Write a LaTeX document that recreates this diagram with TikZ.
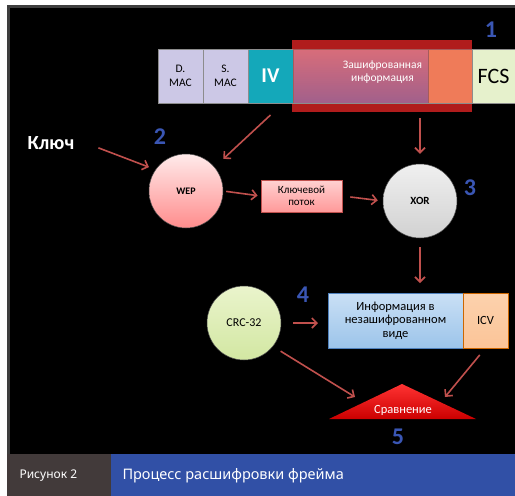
\documentclass[tikz,border=0pt]{standalone}
\usepackage{fontspec}
\setmainfont{Carlito}
\newfontfamily\capfont{Noto Sans}
\usetikzlibrary{arrows.meta,positioning,fit}
\definecolor{arrred}{HTML}{C0504D}
\definecolor{numblue}{HTML}{3A56B4}
\definecolor{framegrey}{HTML}{3E3E3E}
\definecolor{bargrey}{HTML}{423A3A}
\definecolor{barblue}{HTML}{3150A6}
\definecolor{macfill}{HTML}{CCC8E6}
\definecolor{ivteal}{HTML}{14A8BA}
\definecolor{encpink}{HTML}{D8A8BC}
\definecolor{encblue}{HTML}{8494D6}
\definecolor{icvorange}{HTML}{FBBE8A}
\definecolor{fcsgreen}{HTML}{E6F1CC}
\definecolor{ovldark}{HTML}{B01C1C}
\definecolor{crctop}{HTML}{EAF4CC}
\definecolor{crcbot}{HTML}{D2E7A2}
\definecolor{infotop}{HTML}{CAE0F5}
\definecolor{infobot}{HTML}{9CC4EA}
\definecolor{infoline}{HTML}{4F81BD}
\newcommand{\fsz}[1]{\fontsize{#1}{#1}\selectfont}

\begin{document}
\begin{tikzpicture}[x=1pt,y=-1pt,
	field/.style={draw=black!45,line width=.6pt,minimum height=54pt,inner sep=1pt,outer sep=0pt,align=center},
	arr/.style={draw=arrred,line width=1.6pt,-{Straight Barb[length=5pt,width=10pt]}},
	num/.style={text=numblue,font=\bfseries\fsz{24}},
	ball/.style={circle,minimum size=74pt,inner sep=0pt,draw=black!70,line width=.5pt}]
	\useasboundingbox (0,0) rectangle (515,496);
	\fill[white] (0,0) rectangle (515,496);
	\fill[framegrey] (7,5) rectangle (515,454);
	\fill[black] (10,8) rectangle (515,454);
	\fill[bargrey] (7,454) rectangle (111,496);
	\fill[barblue] (111,454) rectangle (515,496);
	\fill[ovldark] (292,40) rectangle (472,112);

	\node[field,fill=macfill,minimum width=45pt,font=\fsz{11.5}] (dmac) at (180.5,76) {D.\\[2pt]MAC};
	\node[field,fill=macfill,minimum width=45pt,font=\fsz{11.5},right=0pt of dmac] (smac) {S.\\[2pt]MAC};
	\node[field,fill=ivteal,text=white,minimum width=45pt,font=\bfseries\fsz{21},right=0pt of smac] (iv) {IV};
	\node[field,top color=encpink,bottom color=encblue,minimum width=135pt,right=0pt of iv] (enc) {};
	\node[field,fill=icvorange,minimum width=44pt,right=0pt of enc] (encx) {};
	\node[field,fill=fcsgreen,minimum width=43pt,font=\fsz{22},right=0pt of encx] (fcs) {FCS};
	\node[fit=(enc)(encx),inner sep=0pt,fill=red!85!black,fill opacity=.35,text opacity=1,
		text=white,align=center,font=\fsz{11.5}] (ovl) {Зашифрованная\\[2pt]информация};
	\node[num] (n1) at (491,30) {1};

	\node[text=white,font=\bfseries\fsz{20}] (key) at (51,143) {Ключ};
	\node[num] (n2) at (160,137) {2};
	\node[ball,top color=red!8,bottom color=red!45,font=\bfseries\fsz{10}] (wep) at (186,191) {WEP};
	\node[draw=arrred,line width=.8pt,top color=red!18,bottom color=red!40,minimum width=81pt,
		minimum height=32pt,inner sep=1pt,align=center,font=\fsz{11}] (ks) at (301.5,196) {Ключевой\\[1pt]поток};
	\node[ball,top color=black!6,bottom color=black!18,font=\bfseries\fsz{11}] (xor) at (420,201) {XOR};
	\node[num] (n3) at (470,188) {3};

	\node[ball,top color=crctop,bottom color=crcbot,font=\fsz{12}] (crc) at (244,323) {CRC-32};
	\node[num] (n4) at (303,295) {4};
	\node[draw=infoline,line width=.8pt,top color=infotop,bottom color=infobot,
		minimum width=135pt,minimum height=55pt,inner sep=1pt,outer sep=0pt,align=center,font=\fsz{12.5}]
		(info) at (395.5,320.5) {Информация в\\[1pt]незашифрованном\\[1pt]виде};
	\node[draw=orange!80!black,line width=.8pt,top color=icvorange!70,bottom color=icvorange!110!orange,
		minimum width=45pt,minimum height=55pt,outer sep=0pt,font=\fsz{12.5},right=0pt of info] (icv) {ICV};

	\shade[top color=red!80,bottom color=red!80!black] (329,419) -- (402,384) -- (476,419) -- cycle;
	\node[text=white,font=\fsz{12.5}] (cmp) at (403,410) {Сравнение};
	\coordinate (cmpL) at (355,397);
	\coordinate (cmpR) at (445,397);
	\node[num] (n5) at (398,437) {5};

	\draw[arr,shorten <=22pt,shorten >=7pt] ([yshift=3pt]key.east) -- (wep.145);
	\draw[arr,shorten >=12pt] ([yshift=-12pt]iv.south) -- (wep.40);
	\draw[arr,shorten <=3pt,shorten >=3pt] (wep.east) -- (ks.west);
	\draw[arr,shorten <=8pt,shorten >=5pt] (ks.east) -- (xor.west);
	\draw[arr,shorten <=15pt,shorten >=10pt] (ovl.south -| xor.north) -- (xor.north);
	\draw[arr,shorten <=9pt,shorten >=10pt] (xor.south) -- (xor.south |- info.north);
	\draw[arr,shorten <=12pt,shorten >=10pt] (crc.east) -- (crc.east -| info.west);
	\draw[arr,shorten <=9pt] (crc.-39) -- (cmpL);
	\draw[arr,shorten <=9pt] (icv.south) -- (cmpR);

	\node[text=white,font=\capfont\fsz{12},anchor=west] (fig) at (16,476) {Рисунок 2};
	\node[text=white,font=\capfont\fsz{14.5},anchor=west] (title) at (119,476) {Процесс расшифровки фрейма};
\end{tikzpicture}
\end{document}
